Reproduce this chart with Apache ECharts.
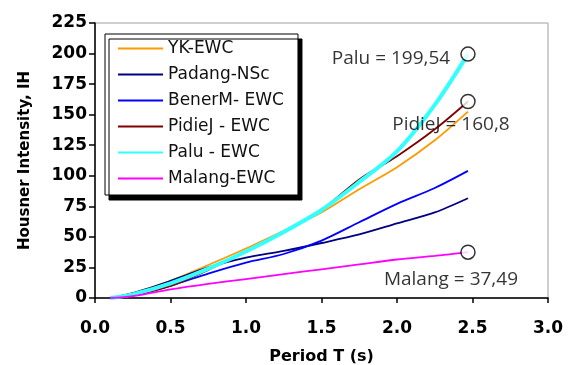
<!DOCTYPE html>
<html>
<head>
<meta charset="utf-8">
<script src="https://cdn.jsdelivr.net/npm/echarts@6/dist/echarts.min.js"></script>
<style>
  html, body { margin: 0; padding: 0; background: #fff; }
  #chart { width: 569px; height: 365px; }
</style>
</head>
<body>
<div id="chart"></div>
<script>
// Period values (s) at which the Housner intensity curves are sampled
const periods = [0.1, 0.25, 0.5, 0.75, 1.0, 1.25, 1.5, 1.75, 2.0, 2.25, 2.47];

// Housner intensity IH for each record
const ykEwc     = [0, 4, 14, 27, 40.5, 55, 70, 89, 107, 129, 152.5];
const padangNsc = [0, 4, 14, 25, 33, 38.5, 45, 52, 61, 70, 81.6];
const benerMEwc = [0, 2.5, 10, 20, 29, 36, 47, 62, 77, 90, 104];
const pidieJEwc = [0, 2, 10, 23, 38, 54, 72, 97, 116, 138, 160.8];
const paluEwc   = [0, 3, 12, 24, 38, 54, 72, 95, 120, 158, 199.54];
const malangEwc = [0, 1.5, 7, 11.5, 15.5, 19.5, 23.5, 27.5, 31.5, 34.5, 37.49];

const seriesNames  = ['YK-EWC', 'Padang-NSc', 'BenerM- EWC', 'PidieJ - EWC', 'Palu - EWC', 'Malang-EWC'];
const seriesValues = [ykEwc, padangNsc, benerMEwc, pidieJEwc, paluEwc, malangEwc];
const seriesColors = ['#ff9900', '#000080', '#0000ff', '#800000', '#33ffff', '#ff00ff'];
const seriesWidths = [1.8, 1.8, 1.8, 1.8, 4, 1.8];

// Records whose peak value is called out with a ring and a text note
const calloutNames  = ['Palu', 'PidieJ', 'Malang'];
const calloutSeries = [4, 3, 5];

const yTicks = { min: 0, max: 225, interval: 25 };
const xTicks = { min: 0, max: 3, interval: 0.5 };

const toPairs = (vals) => vals.map((v, i) => [periods[i], v]);
const commaNumber = (v) => String(v).replace('.', ',');

const lineSeries = seriesNames.map((name, k) => ({
  name: name,
  type: 'line',
  data: toPairs(seriesValues[k]),
  symbol: 'none',
  smooth: 0.3,
  color: seriesColors[k],
  lineStyle: { width: seriesWidths[k], color: seriesColors[k] },
  z: 2 + k
}));

// label placement for each callout relative to its ring
const calloutLabelStyle = [
  { position: 'left', distance: 10, offset: [0, 4] },
  { position: 'inside', offset: [-17, 23] },
  { position: 'inside', offset: [-17, 27] }
];

const calloutSeriesList = calloutNames.map((name, j) => {
  const vals = seriesValues[calloutSeries[j]];
  const last = vals.length - 1;
  return {
    name: name + ' peak',
    type: 'scatter',
    data: [[periods[last], vals[last]]],
    symbol: 'circle',
    symbolSize: 14,
    itemStyle: { color: '#ffffff', borderColor: '#000000', borderWidth: 1.5 },
    z: 20,
    label: Object.assign({
      show: true,
      formatter: name + ' = ' + commaNumber(vals[last]),
      fontFamily: 'Open Sans',
      fontSize: 19,
      color: '#000000'
    }, calloutLabelStyle[j])
  };
});

const chart = echarts.init(document.getElementById('chart'), null, { renderer: 'canvas' });

chart.setOption({
  animation: false,
  backgroundColor: '#ffffff',
  grid: {
    left: 95, right: 21, top: 23, bottom: 67,
    outerBoundsMode: 'none',
    containLabel: false,
    show: true,
    borderColor: '#a0a0a0',
    borderWidth: 1,
    backgroundColor: 'transparent'
  },
  legend: {
    data: seriesNames,
    orient: 'vertical',
    left: 105,
    top: 34,
    itemWidth: 45,
    itemHeight: 14,
    itemGap: 9,
    padding: [6, 14, 8, 12],
    backgroundColor: '#ffffff',
    borderColor: '#000000',
    borderWidth: 1,
    borderRadius: 0,
    shadowColor: '#000000',
    shadowOffsetX: 4,
    shadowOffsetY: 5,
    shadowBlur: 0,
    // draw only the line sample, not a point symbol
    itemStyle: { opacity: 0, borderWidth: 0 },
    textStyle: { fontFamily: 'DejaVu Sans', fontSize: 17, color: '#111111' }
  },
  xAxis: {
    type: 'value',
    min: xTicks.min,
    max: xTicks.max,
    interval: xTicks.interval,
    name: 'Period T (s)',
    nameLocation: 'middle',
    nameGap: 51,
    nameTextStyle: { fontFamily: 'DejaVu Sans', fontWeight: 'bold', fontSize: 16, color: '#000' },
    axisLine: { show: true, onZero: false, lineStyle: { color: '#000', width: 1.5 } },
    axisTick: { show: true, inside: false, length: 5, lineStyle: { color: '#000', width: 1.5 } },
    axisLabel: {
      margin: 22,
      fontFamily: 'DejaVu Sans', fontWeight: 'bold', fontSize: 17, color: '#000',
      formatter: (v) => v.toFixed(1)
    },
    splitLine: { show: false }
  },
  yAxis: {
    type: 'value',
    min: yTicks.min,
    max: yTicks.max,
    interval: yTicks.interval,
    name: 'Housner Intensity, IH',
    nameLocation: 'middle',
    nameGap: 62,
    nameTextStyle: { fontFamily: 'DejaVu Sans', fontWeight: 'bold', fontSize: 15, color: '#000' },
    axisLine: { show: true, onZero: false, lineStyle: { color: '#000', width: 1.5 } },
    axisTick: { show: true, inside: false, length: 6, lineStyle: { color: '#000', width: 1.5 } },
    axisLabel: {
      margin: 8,
      fontFamily: 'DejaVu Sans', fontWeight: 'bold', fontSize: 17, color: '#000'
    },
    splitLine: { show: false }
  },
  series: lineSeries.concat(calloutSeriesList)
});
</script>
</body>
</html>
